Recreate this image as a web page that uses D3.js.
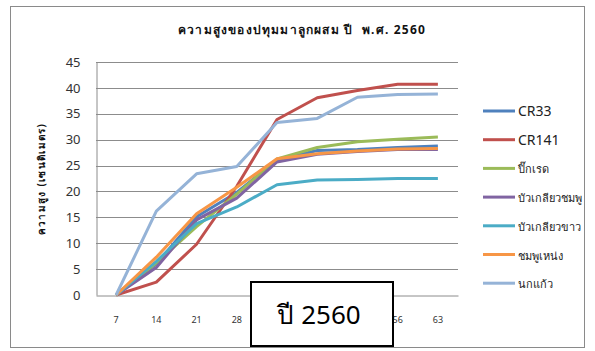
<!DOCTYPE html>
<html><head><meta charset="utf-8">
<script src="https://cdn.jsdelivr.net/npm/d3@7"></script>
<style>body{margin:0;background:#fff}svg{display:block}text{white-space:pre}</style>
</head><body>
<script>
const categories = ["7","14","21","28","35","42","49","56","63"];
const seriesNames = ["CR33","CR141","ปิ๊กเรด","บัวเกลียวชมพู","บัวเกลียวขาว","ชมพูเหน่ง","นกแก้ว"];
const cr33        = [0, 6.0, 15.1, 19.8, 26.1, 27.9, 28.1, 28.5, 28.8];
const cr141       = [0, 2.5, 9.8, 21.0, 33.9, 38.1, 39.5, 40.7, 40.7];
const pikred      = [0, 6.2, 13.2, 19.5, 26.3, 28.5, 29.6, 30.1, 30.5];
const buaPink     = [0, 5.3, 14.5, 18.7, 25.7, 27.2, 27.7, 28.1, 28.1];
const buaWhite    = [0, 6.5, 13.8, 17.0, 21.3, 22.2, 22.3, 22.5, 22.5];
const chompoo     = [0, 7.3, 15.7, 20.8, 26.3, 27.3, 27.8, 28.2, 28.3];
const nokkaew     = [0, 16.2, 23.4, 24.8, 33.3, 34.1, 38.2, 38.7, 38.8];
const yTicks = [0,5,10,15,20,25,30,35,40,45];
const colors = ["#4F81BD","#C0504D","#9BBB59","#8064A2","#4BACC6","#F79646","#95B3D7"];
const seriesValues = [cr33, cr141, pikred, buaPink, buaWhite, chompoo, nokkaew];
const title = "ความสูงของปทุมมาลูกผสม ปี  พ.ศ. 2560";
const yTitle = "ความสูง (เซนติเมตร)";
const boxText = "ปี 2560";

const W = 595, H = 351;
const svg = d3.select("body").append("svg").attr("width", W).attr("height", H);
const font = "'Noto Sans', 'DejaVu Sans', sans-serif";

svg.append("rect").attr("x",10.5).attr("y",6.5).attr("width",574).attr("height",341)
  .attr("fill","#fff").attr("stroke","#8a8a8a").attr("stroke-width",1);

const plot = {l:96, r:458, t:62, b:295};
const x = d3.scaleBand().domain(categories).range([plot.l, plot.r]);
const y = d3.scaleLinear().domain([0,45]).range([plot.b, plot.t]);

// gridlines
svg.append("g").selectAll("line").data(yTicks.filter(d=>d>0)).join("line")
  .attr("x1",plot.l).attr("x2",plot.r)
  .attr("y1",d=>Math.round(y(d))+0.5).attr("y2",d=>Math.round(y(d))+0.5)
  .attr("stroke","#8c8c8c").attr("stroke-width",1);

// axes
const yAxis = svg.append("g").attr("transform",`translate(${plot.l+0.5},0)`)
  .call(d3.axisLeft(y).tickValues(yTicks).tickSize(0).tickPadding(16));
yAxis.select(".domain").attr("stroke","#8c8c8c");
yAxis.selectAll("text").attr("font-family",font).attr("font-size",13).attr("fill","#333");

const xAxis = svg.append("g").attr("transform",`translate(0,${plot.b+0.5})`)
  .call(d3.axisBottom(x).tickSize(0).tickPadding(21));
xAxis.select(".domain").attr("stroke","#8c8c8c");
xAxis.selectAll("text").attr("font-family",font).attr("font-size",9).attr("fill","#333");

// lines
const line = d3.line().x((d,i)=>x(categories[i])+x.bandwidth()/2).y(d=>y(d));
svg.append("g").selectAll("path").data(seriesValues).join("path")
  .attr("d",d=>line(d)).attr("fill","none")
  .attr("stroke",(d,i)=>colors[i]).attr("stroke-width",3).attr("stroke-linejoin","round");

// title
svg.append("text").attr("x",302).attr("y",34).attr("text-anchor","middle")
  .attr("font-family",font).attr("font-size",12).attr("letter-spacing",1.2)
  .attr("font-weight","bold").attr("fill","#111")
  .text(title);

// y title
svg.append("text").attr("transform","translate(45,179) rotate(-90)").attr("text-anchor","middle")
  .attr("font-family",font).attr("font-size",10).attr("letter-spacing",1.3)
  .attr("font-weight","bold").attr("fill","#111")
  .text(yTitle);

// legend
const lg = svg.append("g").selectAll("g").data(seriesNames).join("g")
  .attr("transform",(d,i)=>`translate(483,${111 + i*28.7})`);
lg.append("line").attr("x1",0).attr("x2",32).attr("y1",0).attr("y2",0)
  .attr("stroke",(d,i)=>colors[i]).attr("stroke-width",3);
lg.append("text").attr("x",35).attr("y",5).attr("font-family",font)
  .attr("font-size",(d,i)=>i<2?14:11).attr("fill","#222").text(d=>d);

// annotation box
svg.append("rect").attr("x",251).attr("y",282).attr("width",142).attr("height",64)
  .attr("fill","#fff").attr("stroke","#000").attr("stroke-width",2);
svg.append("text").attr("x",319).attr("y",324).attr("text-anchor","middle")
  .attr("font-family",font).attr("font-size",26).attr("fill","#000").text(boxText);
</script>
</body></html>
